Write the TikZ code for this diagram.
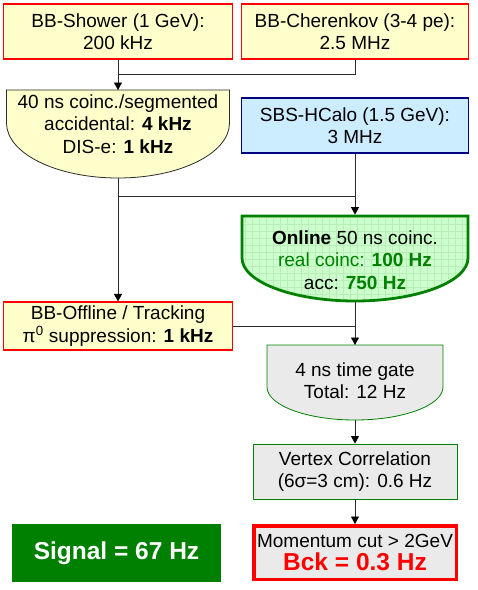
\documentclass[tikz,border=0pt]{standalone}
\usepackage{fontspec}
\setmainfont{Liberation Sans}
\usetikzlibrary{arrows.meta}
\definecolor{lyellow}{HTML}{FFFFCC}
\definecolor{lblue}{HTML}{CCECFF}
\definecolor{navy}{HTML}{000080}
\definecolor{dgreen}{HTML}{008000}
\definecolor{lgreen}{HTML}{CCFFCC}
\definecolor{gridgreen}{HTML}{B8EEB8}
\definecolor{lgray}{HTML}{EAEAEA}
\definecolor{linegray}{HTML}{2A2A2A}
\begin{document}
\begin{tikzpicture}[x=1pt,y=-1pt,
  txt/.style={font=\fontsize{19}{22.5}\selectfont, align=center, inner sep=0pt},
  redbox/.style={txt, draw=red, line width=1.2pt, fill=lyellow},
  graybox/.style={txt, draw=dgreen, line width=0.9pt, fill=lgray},
  conn/.style={draw=linegray, line width=0.9pt},
  arr/.style={conn, -{Triangle[length=7.5pt,width=8pt,color=black]}}]
\useasboundingbox (0,0) rectangle (478,590);
\fill[white] (0,0) rectangle (478,590);

% top boxes
\node[redbox, minimum width=229pt, minimum height=55pt] (shower) at (118,31.5) {BB-Shower (1 GeV):\\200 kHz};
\node[redbox, minimum width=227pt, minimum height=55pt] (cheren) at (355,31.5) {BB-Cherenkov (3-4 pe):\\2.5 MHz};

% 40 ns coinc shape
\path[draw=linegray, line width=0.8pt, fill=lyellow] (6.5,90) -- (229.5,90) -- (229.5,123)
  .. controls (229.5,153.4) and (179.6,178) .. (118,178)
  .. controls (56.4,178) and (6.5,153.4) .. (6.5,123) -- cycle;
\coordinate (coinctop) at (118,90);
\coordinate (coincbot) at (118,178);
\node[txt] (coinc) at (118,124) {40 ns coinc./segmented\\accidental: \textbf{4 kHz}\\DIS-e: \textbf{1 kHz}};

% SBS
\node[txt, draw=navy, line width=1.2pt, fill=lblue, minimum width=227pt, minimum height=55pt] (sbs) at (355,125.5) {SBS-HCalo (1.5 GeV):\\3 MHz};

% Online green shape
\begin{scope}
\clip (242,216) -- (468,216) -- (468,258)
  .. controls (468,281.7) and (417.4,301) .. (355,301)
  .. controls (292.6,301) and (242,281.7) .. (242,258) -- cycle;
\fill[lgreen] (240,214) rectangle (470,303);
\draw[gridgreen, line width=0.5pt, step=7pt] (240,214) grid (470,303);
\end{scope}
\path[draw=dgreen, line width=2.8pt] (242,216) -- (468,216) -- (468,258)
  .. controls (468,281.7) and (417.4,301) .. (355,301)
  .. controls (292.6,301) and (242,281.7) .. (242,258) -- cycle;
\coordinate (greentop) at (355,214.6);
\coordinate (greenbot) at (355,302.4);
\node[txt] (online) at (355,260) {\textbf{Online} 50 ns coinc.\\\textcolor{dgreen}{real coinc: \textbf{100 Hz}}\\acc: \textcolor{dgreen}{\textbf{750 Hz}}};

% BB-Offline
\node[redbox, minimum width=229pt, minimum height=48pt] (offline) at (118,326) {BB-Offline / Tracking\\π\textsuperscript{0} suppression: \textbf{1 kHz}};

% 4 ns time gate shape
\path[draw=dgreen, line width=0.8pt, fill=lgray] (267,345) -- (443,345) -- (443,387)
  .. controls (443,405.2) and (403.6,420) .. (355,420)
  .. controls (306.4,420) and (267,405.2) .. (267,387) -- cycle;
\coordinate (graytop) at (355,345);
\coordinate (graybot) at (355,420);
\node[txt] (gate) at (355,380.5) {4 ns time gate\\Total: 12 Hz};

% Vertex
\node[graybox, minimum width=204pt, minimum height=55pt] (vertex) at (355,471.5) {Vertex Correlation\\(6σ=3 cm): 0.6 Hz};

% Momentum
\node[txt, draw=red, line width=3.5pt, fill=lgray, minimum width=202.5pt, minimum height=53.5pt] (moment) at (355,552.5)
  {\fontsize{19}{22}\selectfont Momentum cut > 2GeV\\[1pt]\fontsize{24.5}{26}\selectfont\bfseries\textcolor{red}{Bck = 0.3 Hz}};

% Signal
\node[txt, fill=dgreen, text=white, minimum width=209pt, minimum height=58pt, font=\fontsize{24.5}{28}\selectfont\bfseries] (signal) at (116.5,553) {Signal = 67 Hz};

% connectors
\coordinate (j1) at (118,74);
\coordinate (j2) at (118,196);
\coordinate (j3) at (355,196);
\coordinate (j4) at (355,326);
\draw[conn] (cheren.south) |- (j1);
\draw[arr] (shower.south) -- (coinctop);
\draw[conn] (coincbot) -- (j2);
\draw[arr] (j2) -- (offline.north);
\draw[conn] (j2) -- (j3);
\draw[arr] (sbs.south) -- (greentop);
\draw[conn] (offline.east) -- (j4);
\draw[arr] (greenbot) -- (graytop);
\draw[arr] (graybot) -- (vertex.north);
\draw[arr] (vertex.south) -- (moment.north);
\end{tikzpicture}
\end{document}
